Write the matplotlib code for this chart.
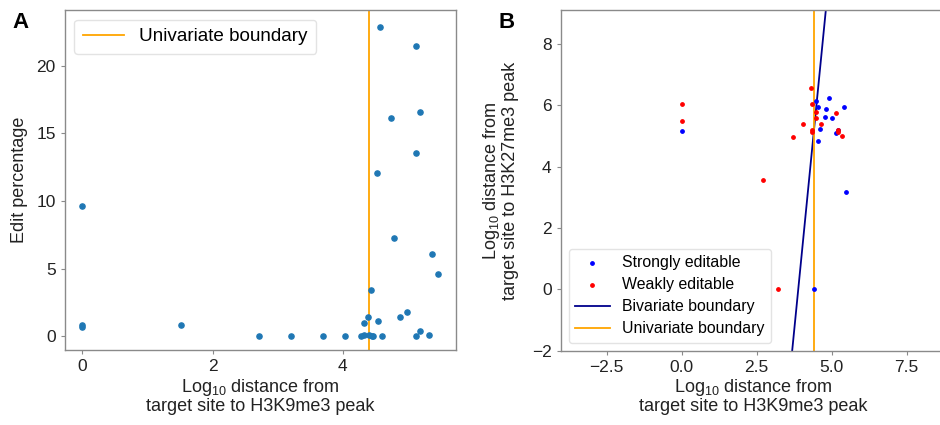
import matplotlib
matplotlib.use("Agg")
import matplotlib.pyplot as plt
import numpy as np

plt.rcParams['font.family'] = ['Liberation Sans', 'DejaVu Sans']
plt.rcParams['mathtext.default'] = 'regular'

# Panel A: distance to H3K9me3 peak vs edit percentage
a_x = [0.0, 0.0, 0.0, 1.51, 2.72, 3.20, 3.70, 4.03, 4.28, 4.33, 4.41, 4.45, 4.46,
       4.60, 4.32, 4.39, 4.54, 4.43, 4.53, 4.58, 4.75, 4.79, 4.88, 4.99, 5.13,
       5.19, 5.13, 5.38, 5.46, 5.12, 5.19, 5.32]
a_y = [9.62, 0.80, 0.70, 0.84, 0.02, 0.02, 0.02, 0.02, 0.02, 0.10, 0.10, 0.05, 0.03,
       0.05, 0.98, 1.43, 1.11, 3.42, 12.04, 22.87, 16.15, 7.26, 1.45, 1.82, 21.47,
       16.54, 13.52, 6.10, 4.63, 0.02, 0.39, 0.10]

# Panel B: H3K9me3 distance vs H3K27me3 distance
strong_x = [0.0, 4.41, 4.48, 4.55, 4.91, 4.81, 4.78, 5.02, 5.41, 4.61, 4.55, 5.15, 5.20, 5.49]
strong_y = [5.17, 0.0, 6.15, 5.95, 6.25, 5.89, 5.62, 5.59, 5.93, 5.23, 4.82, 5.11, 5.19, 3.17]
weak_x = [0.0, 0.0, 2.72, 3.21, 3.72, 4.04, 4.30, 4.35, 4.35, 4.36, 4.47, 4.48, 4.64, 5.15, 5.23, 5.34, 5.20]
weak_y = [6.03, 5.49, 3.56, 0.0, 4.96, 5.39, 6.57, 6.04, 5.21, 5.12, 5.78, 5.58, 5.38, 5.76, 5.19, 4.99, 5.12]

univariate_cut = 4.41
biv_intercept = 3.89   # x where bivariate boundary crosses y = 0
biv_slope = 0.101      # dx/dy of bivariate boundary

fig = plt.figure(figsize=(9.4, 4.25), dpi=100)
ax1 = fig.add_axes([0.069, 0.176, 0.416, 0.800])
ax2 = fig.add_axes([0.5965, 0.175, 0.41, 0.801])

for ax in (ax1, ax2):
    for s in ax.spines.values():
        s.set_color('#8a8a8a')
        s.set_linewidth(1.0)
    ax.tick_params(labelsize=12.5, colors='#8a8a8a', labelcolor='#222222', length=3)

# === A ===
ax1.scatter(a_x, a_y, s=14, color='#1f77b4', zorder=3)
ax1.axvline(univariate_cut, color='orange', lw=1.3, label='Univariate boundary')
ax1.set_xlim(-0.27, 5.74)
ax1.set_ylim(-1.03, 24.1)
ax1.set_xticks([0, 2, 4])
ax1.set_yticks([0, 5, 10, 15, 20])
ax1.set_ylabel('Edit percentage', fontsize=13, color='#222222', labelpad=6)
ax1.set_xlabel('Log$_{10}$ distance from\ntarget site to H3K9me3 peak', fontsize=13,
               color='#222222', labelpad=2, linespacing=1.0)
ax1.legend(loc='upper left', fontsize=13.6, handlelength=2.2, borderpad=0.45,
           framealpha=0.8, edgecolor='#dddddd')

# === B ===
ax2.scatter(strong_x, strong_y, s=6, color='blue', label='Strongly editable', zorder=3)
ax2.scatter(weak_x, weak_y, s=6, color='red', label='Weakly editable', zorder=3)
yy = np.array([-2.5, 9.5])
ax2.plot(biv_intercept + biv_slope * yy, yy, color='darkblue', lw=1.3, label='Bivariate boundary')
ax2.axvline(univariate_cut, color='orange', lw=1.3, label='Univariate boundary')
ax2.set_xlim(-4.03, 8.82)
ax2.set_ylim(-2, 9.1)
ax2.set_xticks([-2.5, 0.0, 2.5, 5.0, 7.5])
ax2.set_yticks([-2, 0, 2, 4, 6, 8])
ax2.set_xlabel('Log$_{10}$ distance from\ntarget site to H3K9me3 peak', fontsize=13,
               color='#222222', labelpad=2, linespacing=1.0)
ax2.set_ylabel('Log$_{10}$ distance from\ntarget site to H3K27me3 peak', fontsize=13,
               color='#222222', labelpad=9, linespacing=1.0)
ax2.legend(loc='lower left', fontsize=11.4, handlelength=2.2, borderpad=0.4,
           labelspacing=0.45, framealpha=0.8, edgecolor='#dddddd')

fig.text(0.013, 0.948, 'A', fontsize=16, fontweight='bold', ha='left', va='center')
fig.text(0.530, 0.948, 'B', fontsize=16, fontweight='bold', ha='left', va='center')

fig.savefig('out.png', dpi=100)
